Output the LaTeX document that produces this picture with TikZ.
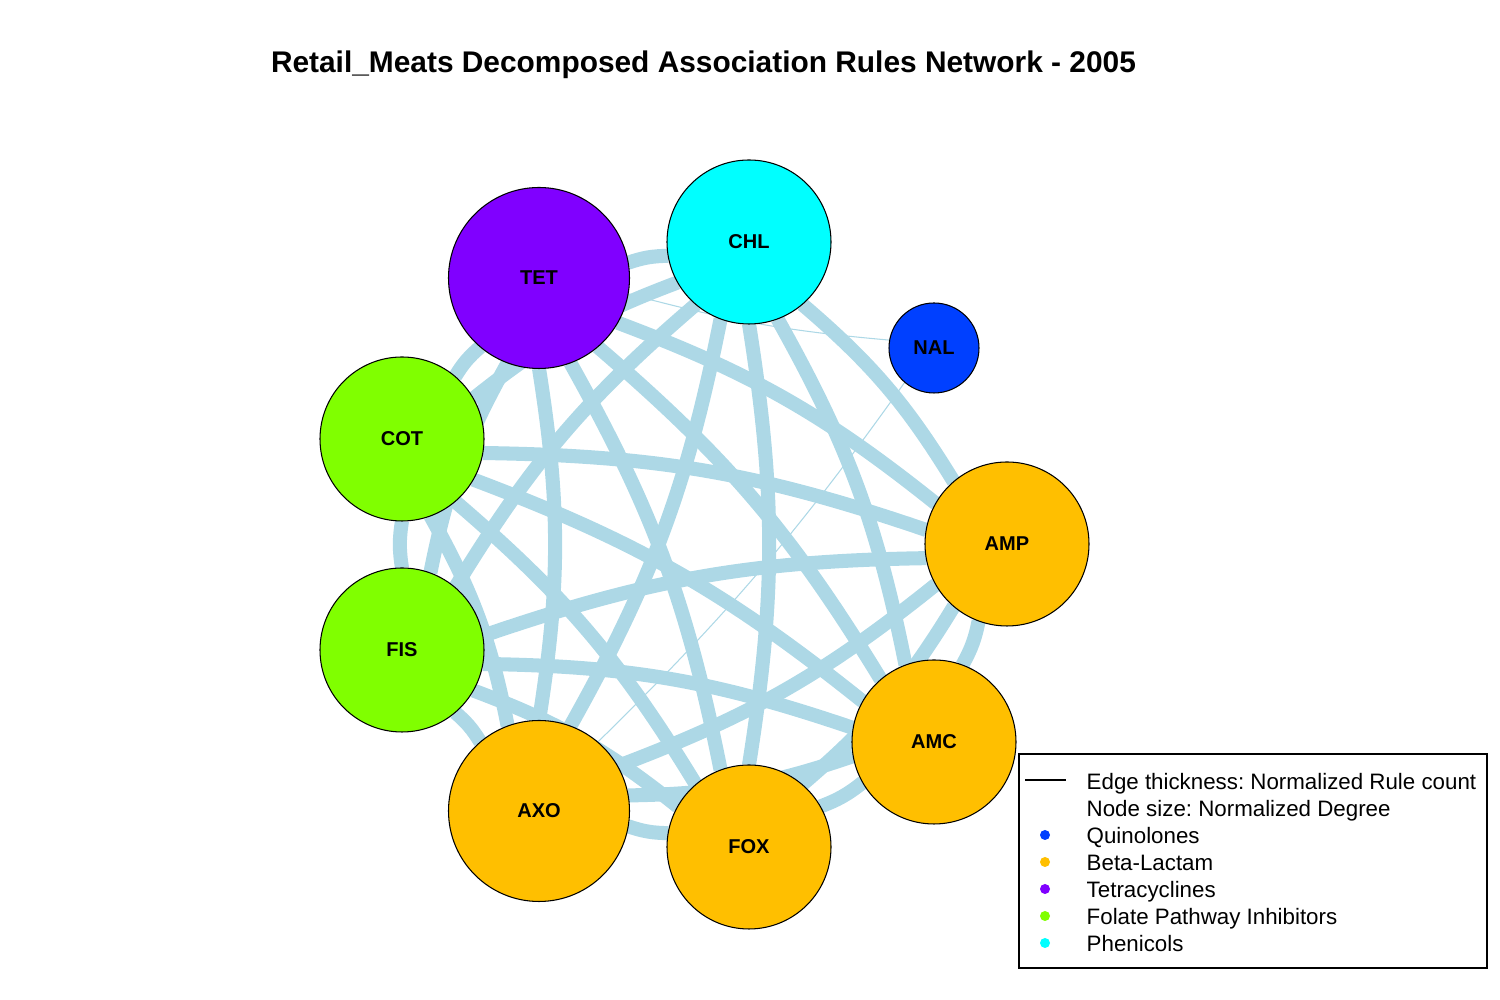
\documentclass[tikz,border=0pt]{standalone}
\usepackage{fontspec}
\setmainfont{Liberation Sans}
\usetikzlibrary{arrows.meta,positioning,calc}
\definecolor{ruleBlue}{RGB}{173,216,230}
\definecolor{quinBlue}{RGB}{0,64,255}
\definecolor{betaOrange}{RGB}{255,191,0}
\definecolor{tetraPurple}{RGB}{128,0,255}
\definecolor{folateGreen}{RGB}{128,255,0}
\definecolor{phenCyan}{RGB}{0,255,255}
\pgfdeclarelayer{background}
\pgfsetlayers{background,main}
\frenchspacing

\begin{document}
\begin{tikzpicture}[
  drug/.style={
    draw=black,
    line width=0.3pt,
    circle,
    inner sep=0pt,
    minimum size=16.4mm,
    font=\fontsize{5.7}{6}\selectfont\bfseries,
  },
  drugbig/.style={
    drug,
    minimum size=18.1mm,
  },
  rule/.style={
    ruleBlue,
    line width=4pt,
  },
  rulethin/.style={
    ruleBlue,
    line width=0.3pt,
  },
  keytext/.style={
    anchor=base west,
    inner sep=0pt,
    font=\fontsize{6.35}{7}\selectfont,
  },
  keydot/.style={
    circle,
    inner sep=0pt,
    minimum size=1mm,
  },
]

  \useasboundingbox (0,0) rectangle (15,-10);

  \node[font=\fontsize{8.5}{10}\selectfont\bfseries, anchor=base] (title)
    at (7.035,-0.73)
    {Retail\_Meats Decomposed Association Rules Network - 2005};

  \node[drugbig, fill=tetraPurple] (tet) at (5.39,-2.78) {TET};
  \node[drug, fill=phenCyan] (chl) at (7.49,-2.42) {CHL};
  \node[drug, fill=quinBlue, minimum size=9mm] (nal) at (9.34,-3.48) {NAL};
  \node[drug, fill=betaOrange] (amp) at (10.07,-5.44) {AMP};
  \node[drug, fill=betaOrange] (amc) at (9.34,-7.42) {AMC};
  \node[drug, fill=betaOrange] (fox) at (7.49,-8.47) {FOX};
  \node[drugbig, fill=betaOrange] (axo) at (5.39,-8.11) {AXO};
  \node[drug, fill=folateGreen] (fis) at (4.02,-6.50) {FIS};
  \node[drug, fill=folateGreen] (cot) at (4.02,-4.39) {COT};

  \begin{pgfonlayer}{background}
    % rule edges, cut at the circles and bent to the right
    \draw[rule] ($(axo)!9.05mm!(fox)$) to[bend right=9] ($(fox)!8.2mm!(axo)$);
    \draw[rule] ($(axo)!9.05mm!(amc)$) to[bend right=9] ($(amc)!8.2mm!(axo)$);
    \draw[rule] ($(axo)!9.05mm!(amp)$) to[bend right=9] ($(amp)!8.2mm!(axo)$);
    \draw[rule] ($(axo)!9.05mm!(chl)$) to[bend right=9] ($(chl)!8.2mm!(axo)$);
    \draw[rule] ($(axo)!9.05mm!(tet)$) to[bend right=9] ($(tet)!9.05mm!(axo)$);
    \draw[rule] ($(axo)!9.05mm!(cot)$) to[bend right=9] ($(cot)!8.2mm!(axo)$);
    \draw[rule] ($(axo)!9.05mm!(fis)$) to[bend right=9] ($(fis)!8.2mm!(axo)$);
    \draw[rule] ($(fox)!8.2mm!(amc)$) to[bend right=9] ($(amc)!8.2mm!(fox)$);
    \draw[rule] ($(fox)!8.2mm!(amp)$) to[bend right=9] ($(amp)!8.2mm!(fox)$);
    \draw[rule] ($(fox)!8.2mm!(chl)$) to[bend right=9] ($(chl)!8.2mm!(fox)$);
    \draw[rule] ($(fox)!8.2mm!(tet)$) to[bend right=9] ($(tet)!9.05mm!(fox)$);
    \draw[rule] ($(fox)!8.2mm!(cot)$) to[bend right=9] ($(cot)!8.2mm!(fox)$);
    \draw[rule] ($(fox)!8.2mm!(fis)$) to[bend right=9] ($(fis)!8.2mm!(fox)$);
    \draw[rule] ($(amc)!8.2mm!(amp)$) to[bend right=9] ($(amp)!8.2mm!(amc)$);
    \draw[rule] ($(amc)!8.2mm!(chl)$) to[bend right=9] ($(chl)!8.2mm!(amc)$);
    \draw[rule] ($(amc)!8.2mm!(tet)$) to[bend right=9] ($(tet)!9.05mm!(amc)$);
    \draw[rule] ($(amc)!8.2mm!(cot)$) to[bend right=9] ($(cot)!8.2mm!(amc)$);
    \draw[rule] ($(amc)!8.2mm!(fis)$) to[bend right=9] ($(fis)!8.2mm!(amc)$);
    \draw[rule] ($(amp)!8.2mm!(chl)$) to[bend right=9] ($(chl)!8.2mm!(amp)$);
    \draw[rule] ($(amp)!8.2mm!(tet)$) to[bend right=9] ($(tet)!9.05mm!(amp)$);
    \draw[rule] ($(amp)!8.2mm!(cot)$) to[bend right=9] ($(cot)!8.2mm!(amp)$);
    \draw[rule] ($(amp)!8.2mm!(fis)$) to[bend right=9] ($(fis)!8.2mm!(amp)$);
    \draw[rule] ($(chl)!8.2mm!(tet)$) to[bend right=9] ($(tet)!9.05mm!(chl)$);
    \draw[rule] ($(chl)!8.2mm!(cot)$) to[bend right=9] ($(cot)!8.2mm!(chl)$);
    \draw[rule] ($(chl)!8.2mm!(fis)$) to[bend right=9] ($(fis)!8.2mm!(chl)$);
    \draw[rule] ($(tet)!9.05mm!(cot)$) to[bend right=9] ($(cot)!8.2mm!(tet)$);
    \draw[rule] ($(tet)!9.05mm!(fis)$) to[bend right=9] ($(fis)!8.2mm!(tet)$);
    \draw[rule] ($(cot)!8.2mm!(fis)$) to[bend right=9] ($(fis)!8.2mm!(cot)$);
    % NAL edges
    \draw[rulethin] ($(tet)!9.05mm!(nal)$) to[bend right=5] ($(nal)!4.5mm!(tet)$);
    \draw[rulethin] ($(axo)!9.05mm!(nal)$) to[bend right=5] ($(nal)!4.5mm!(axo)$);
  \end{pgfonlayer}

  % legend
  \node[draw, line width=0.7pt, minimum width=4.68cm, minimum height=2.14cm,
    inner sep=0pt] (key) at (12.53,-8.61) {};
  \draw[line width=0.3pt] (10.25,-7.80) -- (10.66,-7.80);
  \node[keytext] (k1) at (10.86,-7.90) {Edge thickness: Normalized Rule count};
  \node[keytext] (k2) at (10.86,-8.17) {Node size: Normalized Degree};
  \node[keytext] (k3) at (10.86,-8.44) {Quinolones};
  \node[keytext] (k4) at (10.86,-8.71) {Beta-Lactam};
  \node[keytext] (k5) at (10.86,-8.98) {Tetracyclines};
  \node[keytext] (k6) at (10.86,-9.25) {Folate Pathway Inhibitors};
  \node[keytext] (k7) at (10.86,-9.52) {Phenicols};
  \node[keydot, fill=quinBlue] (d3) at (10.45,-8.35) {};
  \node[keydot, fill=betaOrange] (d4) at (10.45,-8.62) {};
  \node[keydot, fill=tetraPurple] (d5) at (10.45,-8.89) {};
  \node[keydot, fill=folateGreen] (d6) at (10.45,-9.16) {};
  \node[keydot, fill=phenCyan] (d7) at (10.45,-9.43) {};

\end{tikzpicture}
\end{document}
